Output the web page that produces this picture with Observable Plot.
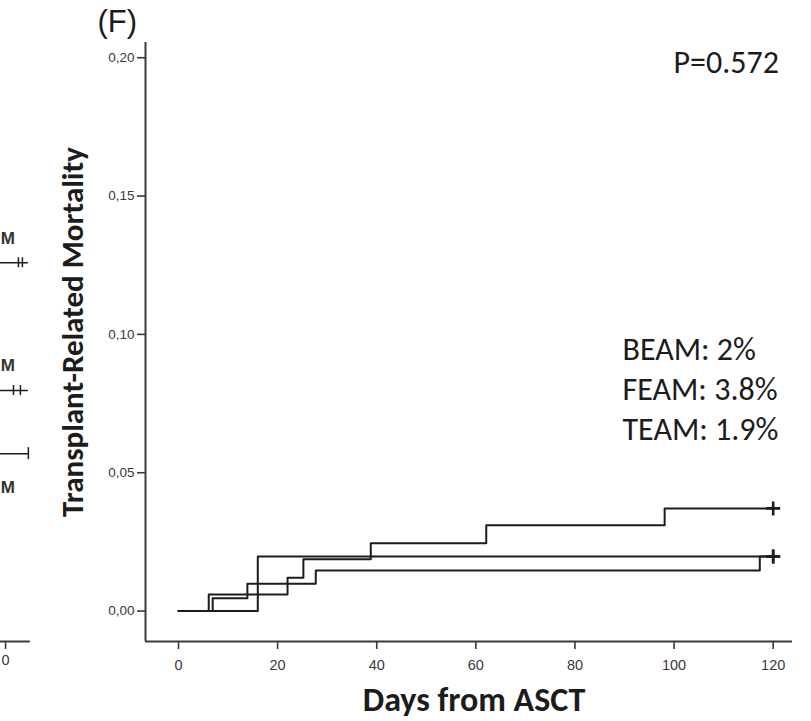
<!DOCTYPE html>
<html>
<head>
<meta charset="utf-8">
<script src="https://cdn.jsdelivr.net/npm/d3@7"></script>
<script src="https://cdn.jsdelivr.net/npm/@observablehq/plot@0.6"></script>
<style>
  html, body { margin: 0; padding: 0; background: #fff; }
</style>
</head>
<body>
<div id="wrap"></div>
<script>
// ---- Panel F data (cumulative incidence of transplant-related mortality) ----
const groups = ["BEAM", "FEAM", "TEAM"];
const beamDays = [0, 16, 120];
const beamCIF  = [0, 0.0197, 0.0197];
const feamDays = [0, 6.1, 22, 25.2, 38.8, 62.1, 98.1, 120];
const feamCIF  = [0, 0.006, 0.012, 0.0187, 0.0245, 0.031, 0.0371, 0.0371];
const teamDays = [0, 6.9, 13.9, 27.7, 117.3, 120];
const teamCIF  = [0, 0.0046, 0.0099, 0.0147, 0.0197, 0.0197];
const groupPct = ["2%", "3.8%", "1.9%"];
const pValue = "P=0.572";
const panelLabel = "(F)";
const xTicks = [0, 20, 40, 60, 80, 100, 120];
const yTicks = [0, 0.05, 0.10, 0.15, 0.20];
const xTitle = "Days from ASCT";
const yTitle = "Transplant-Related Mortality";

// ---- Visible fragment of the neighbouring panel (E) at the left edge,
//      expressed on this panel's shared scales ----
const eRowTails    = ["M", "M", "M"];           // visible ends of the row labels
const eLevels      = [0.1259, 0.0797, 0.0569];
const eLabelLevels = [0.1346, 0.0887, 0.0446];
const eCensorDays  = [[-32.3, -31.5], [-33.3, -31.9], []];
const eAxisTickLabel = "0";
const eLineStart = -45, eLineEnd = -30.3, eLabelEnd = -33.0, eAxisTick = -34.9, eAxisEnd = -29.9;

// ---- build tables ----
const series = [[beamDays, beamCIF], [feamDays, feamCIF], [teamDays, teamCIF]];
const rows = [];
series.forEach(([d, v], i) => d.forEach((t, j) => rows.push({group: groups[i], day: t, cif: v[j]})));
const censored = series.map(([d, v], i) => ({group: groups[i], day: d[d.length - 1], cif: v[v.length - 1]}));
const statText = groups.map((g, i) => `${g}: ${groupPct[i]}`).join("\n");

const eData = eRowTails.map((r, i) => ({row: r, level: eLevels[i], label: eLabelLevels[i]}));
const eCens = [];
eCensorDays.forEach((arr, i) => arr.forEach(t => eCens.push({day: t, level: eLevels[i]})));

const xDomain = [-6.66, 123.9];
const yDomain = [-0.011, 0.2055];
const pxY = (yDomain[1] - yDomain[0]) / 599; // value per vertical pixel of the frame
const ink = "#1c1c1c";
const axisInk = "#3a3a3a";
const sans = "Carlito, Lato, 'Open Sans', sans-serif";

const main = Plot.plot({
  width: 811,
  height: 721,
  marginLeft: 145,
  marginRight: 19,
  marginTop: 42,
  marginBottom: 80,
  style: {fontFamily: "'Liberation Sans Narrow', 'Liberation Sans', sans-serif", fontSize: "13px", color: axisInk, background: "#fff", overflow: "hidden"},
  x: {domain: xDomain, axis: null},
  y: {domain: yDomain, axis: null},
  marks: [
    Plot.axisY({ticks: yTicks, tickSize: 8, tickPadding: 3, fontSize: 13.5, tickFormat: d => d.toFixed(2).replace(".", ","), label: null, strokeWidth: 1.6}),
    Plot.axisX({ticks: xTicks, tickSize: 8, tickPadding: 10, fontSize: 14.5, tickFormat: d => String(d), label: null, strokeWidth: 1.6}),
    Plot.ruleX([xDomain[0]], {stroke: axisInk, strokeWidth: 2}),
    Plot.ruleY([yDomain[0]], {stroke: axisInk, strokeWidth: 2}),
    Plot.line(rows, {x: "day", y: "cif", z: "group", curve: "step-after", stroke: ink, strokeWidth: 2}),
    Plot.dot(censored, {x: "day", y: "cif", symbol: "plus", r: 4.6, stroke: ink, strokeWidth: 2.6}),
    Plot.text([panelLabel], {text: d => d, frameAnchor: "top-left", textAnchor: "start", lineAnchor: "middle", dx: -48, dy: -20, fontSize: 31, fontFamily: "'Liberation Sans', Arial, sans-serif", fill: ink}),
    Plot.text([pValue], {text: d => d, frameAnchor: "top-right", textAnchor: "end", lineAnchor: "middle", dx: -13.5, dy: 20.5, fontSize: 32, fontFamily: sans, fill: ink}),
    Plot.text([statText], {text: d => d, frameAnchor: "right", textAnchor: "start", lineAnchor: "middle", dx: -170, dy: 45.5, lineHeight: 40 / 32, fontSize: 32, fontFamily: sans, fill: ink}),
    Plot.text([yTitle], {text: d => d, frameAnchor: "left", textAnchor: "middle", rotate: -90, lineAnchor: "middle", dx: -72, dy: -10, fontSize: 31, fontWeight: "bold", fontFamily: sans, fill: ink}),
    Plot.text([xTitle], {text: d => d, frameAnchor: "bottom", textAnchor: "middle", lineAnchor: "middle", dx: 5, dy: 59, fontSize: 34, fontWeight: "bold", fontFamily: sans, fill: ink}),
    // neighbouring panel fragment at the far left
    Plot.ruleY(eData, {y: "level", x1: eLineStart, x2: eLineEnd, stroke: ink, strokeWidth: 1.5}),
    Plot.ruleX(eCens, {x: "day", y1: d => d.level - 5 * pxY, y2: d => d.level + 5 * pxY, stroke: ink, strokeWidth: 1.5}),
    Plot.ruleX(eData.slice(2), {x: eLineEnd, y1: d => d.level - 6 * pxY, y2: d => d.level + 6 * pxY, stroke: ink, strokeWidth: 1.5}),
    Plot.text(eData, {x: eLabelEnd, y: "label", text: "row", textAnchor: "end", fontSize: 17, fontWeight: "bold", fontFamily: "'Liberation Sans', sans-serif", fill: "#333"}),
    Plot.ruleY([yDomain[0]], {x1: eLineStart, x2: eAxisEnd, stroke: axisInk, strokeWidth: 2}),
    Plot.ruleX([eAxisTick], {y1: yDomain[0], y2: yDomain[0] - 8 * pxY, stroke: axisInk, strokeWidth: 1.6}),
    Plot.text([eAxisTickLabel], {x: eAxisTick, y: yDomain[0], text: d => d, dy: 19, fontSize: 14.5, fontFamily: "'Liberation Sans Narrow', 'Liberation Sans', sans-serif", fill: axisInk})
  ]
});
document.getElementById("wrap").appendChild(main);
</script>
</body>
</html>
